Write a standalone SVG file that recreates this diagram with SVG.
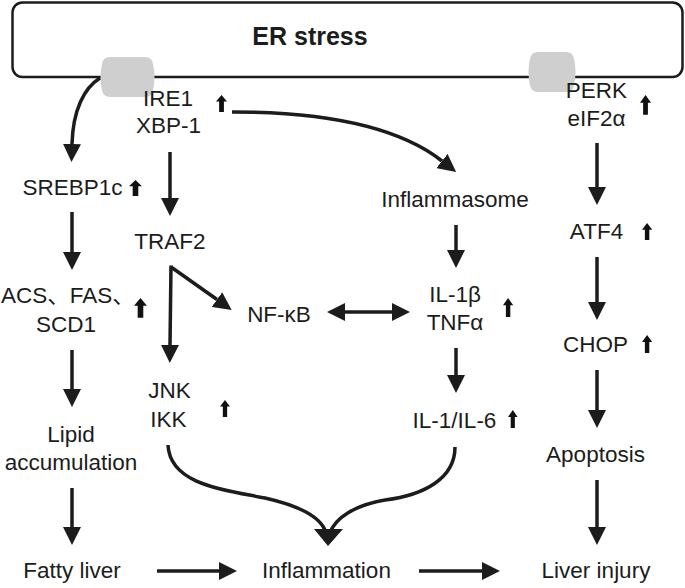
<svg xmlns="http://www.w3.org/2000/svg" xmlns:xlink="http://www.w3.org/1999/xlink" width="685" height="588" viewBox="0 0 685 588">
<style>
text{font-family:"Liberation Sans","Noto Sans CJK SC",Arial,sans-serif;font-size:22.5px;fill:#1c1c1c;text-anchor:middle}
.bold{font-weight:bold;font-size:25px}
.ln{fill:none;stroke:#1c1c1c;stroke-width:3.5}
.up{fill:#111}
.blob{fill:#cfcfcf}
</style>
<defs>
<marker id="ah" markerUnits="userSpaceOnUse" markerWidth="18" markerHeight="18" viewBox="0 0 17 17" refX="0" refY="8.5" orient="auto-start-reverse">
<path d="M0,0 L17,8.5 L0,17 Z" fill="#1c1c1c"/>
</marker>
<path id="up" d="M6,0 L12,7 L8.6,7 L8.6,18 L3.4,18 L3.4,7 L0,7 Z"/>
</defs>
<rect width="685" height="588" fill="#fff"/>

<g id="er-stress">
<rect x="12.5" y="2.5" width="670" height="74.5" rx="10" fill="#fff" stroke="#1c1c1c" stroke-width="2.5"/>
<text class="bold" x="310" y="45">ER stress</text>
<path class="blob" d="M110,57 L145,57 Q152,57 153,64 Q156,77 153,90 Q152,97 145,97 L110,97 Q103,97 102,90 Q99,77 102,64 Q103,57 110,57 Z"/>
<path class="blob" d="M538,52 L566,52 Q573,52 574,59 Q577,72 574,85 Q573,92 566,92 L538,92 Q531,92 530,85 Q527,72 530,59 Q531,52 538,52 Z"/>
</g>

<g id="connectors">
<path class="ln" marker-end="url(#ah)" d="M100,78 C84,88 73,110 72,144"/>
<path class="ln" marker-end="url(#ah)" d="M232,112 C330,112 400,128 442,161"/>
<path class="ln" marker-end="url(#ah)" d="M72,212 V252"/>
<path class="ln" marker-end="url(#ah)" d="M72,350 V389"/>
<path class="ln" marker-end="url(#ah)" d="M72,488 V527"/>
<path class="ln" marker-end="url(#ah)" d="M157,571 H219"/>
<path class="ln" marker-end="url(#ah)" d="M419,571 H482"/>
<path class="ln" marker-end="url(#ah)" d="M170,152 V198"/>
<path class="ln" marker-end="url(#ah)" d="M171,267 L217,299.5"/>
<path class="ln" marker-end="url(#ah)" d="M171,265.5 L170,345"/>
<path class="ln" marker-start="url(#ah)" marker-end="url(#ah)" d="M345,312 H392"/>
<path class="ln" marker-end="url(#ah)" d="M456,225 V250"/>
<path class="ln" marker-end="url(#ah)" d="M456,348 V375"/>
<path class="ln" marker-end="url(#ah)" d="M597,143 V187"/>
<path class="ln" marker-end="url(#ah)" d="M597,257 V302"/>
<path class="ln" marker-end="url(#ah)" d="M597,370 V410"/>
<path class="ln" marker-end="url(#ah)" d="M597,480 V527"/>
<path class="ln" d="M168,445 C170,485 225,490 265,498 C300,506 322,518 326,533"/>
<path class="ln" d="M455,447 C455,478 425,495 385,500 C355,505 335,518 330,533"/>
<path d="M314,529 L343,529 L328,546 Z" fill="#1c1c1c"/>
</g>

<g id="ire1">
<text x="168" y="106">IRE1</text>
<text x="168.5" y="133">XBP-1</text>
<use href="#up" class="up" transform="translate(216,95) scale(0.92,0.94)"/>
</g>
<g id="srebp1c">
<text x="72.5" y="195">SREBP1c</text>
<use href="#up" class="up" transform="translate(129,180) scale(1.08,0.89)"/>
</g>
<g id="traf2"><text x="170" y="249">TRAF2</text></g>
<g id="acs-fas-scd1">
<text x="1" y="303" style="text-anchor:start">ACS、FAS、</text>
<text x="66" y="332">SCD1</text>
<use href="#up" class="up" transform="translate(134,298) scale(1.08,1.1)"/>
</g>
<g id="nfkb"><text x="279" y="322">NF-κB</text></g>
<g id="inflammasome"><text x="455" y="207">Inflammasome</text></g>
<g id="il1b-tnfa">
<text x="455" y="302">IL-1β</text>
<text x="455" y="330">TNFα</text>
<use href="#up" class="up" transform="translate(503,298) scale(0.85,1.05)"/>
</g>
<g id="perk">
<text x="596.5" y="98">PERK</text>
<text x="596.5" y="126">eIF2α</text>
<use href="#up" class="up" transform="translate(640,95) scale(0.92,1.1)"/>
</g>
<g id="atf4">
<text x="596.5" y="239">ATF4</text>
<use href="#up" class="up" transform="translate(642,223) scale(0.85,0.95)"/>
</g>
<g id="chop">
<text x="595.5" y="352">CHOP</text>
<use href="#up" class="up" transform="translate(642,335) scale(0.85,1)"/>
</g>
<g id="il1-il6">
<text x="454.5" y="428">IL-1/IL-6</text>
<use href="#up" class="up" transform="translate(508,410) scale(0.8,1)"/>
</g>
<g id="jnk-ikk">
<text x="169.5" y="398">JNK</text>
<text x="168.5" y="427">IKK</text>
<use href="#up" class="up" transform="translate(220,400) scale(0.83,0.94)"/>
</g>
<g id="lipid">
<text x="71" y="442">Lipid</text>
<text x="71" y="470">accumulation</text>
</g>
<g id="apoptosis"><text x="595.5" y="462">Apoptosis</text></g>
<g id="fatty-liver"><text x="72" y="578">Fatty liver</text></g>
<g id="inflammation"><text x="326.5" y="578">Inflammation</text></g>
<g id="liver-injury"><text x="596" y="578">Liver injury</text></g>
</svg>
